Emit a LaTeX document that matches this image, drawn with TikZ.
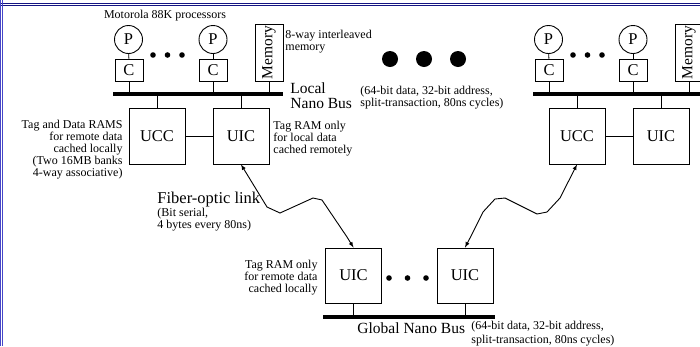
\documentclass[tikz,border=0pt]{standalone}
\usepackage{fontspec}
\setmainfont{Liberation Serif}
\definecolor{framenavy}{RGB}{20,20,130}
\definecolor{frameblue}{RGB}{70,70,200}
\newcommand{\smallfnt}{\fontsize{12}{12}\selectfont}
\newcommand{\loosefnt}{\fontsize{12}{14}\selectfont}
\newcommand{\bigfnt}{\fontsize{15.5}{15}\selectfont}
\newcommand{\boxfnt}{\fontsize{16.5}{16}\selectfont}
\begin{document}
\begin{tikzpicture}[x=1pt,y=-1pt,>=latex,line width=0.9pt,
  proc/.style={draw,circle,minimum size=28,inner sep=0,font=\boxfnt},
  cache/.style={draw,minimum width=28,minimum height=22,inner sep=0,font=\boxfnt},
  mem/.style={draw,rotate=90,minimum width=57,minimum height=28,inner sep=0,font=\bigfnt},
  ctrl/.style={draw,minimum width=56,minimum height=56,inner sep=0,font=\boxfnt},
  txt/.style={inner sep=0,font=\smallfnt},
  bigtxt/.style={inner sep=0,font=\bigfnt},
  boxtxt/.style={inner sep=0,font=\boxfnt},
  bus/.style={line width=4pt}]
\clip (0,0) rectangle (700,346);
% frame
\draw[framenavy,line width=1pt] (0,3.8)--(700,3.8) (0,5.8)--(700,5.8);
\draw[frameblue,line width=1pt] (0.5,0)--(0.5,346) (2.3,0)--(2.3,346);
% the two local clusters
\foreach \n/\s in {l/0,r/420}{
\begin{scope}[xshift=\s]
\node[proc] (\n p1) at (128.5,39.5) {P};
\node[proc] (\n p2) at (213,39.5) {P};
\node[cache] (\n c1) at (129,70) {C};
\node[cache] (\n c2) at (213,70) {C};
\node[mem] (\n mem) at (269,52.5) {Memory};
\coordinate (\n busl) at (113,94);
\coordinate (\n busr) at (283,94);
\draw[bus] (\n busl)--(\n busr);
\node[ctrl] (\n ucc) at (157,136) {UCC};
\node[ctrl] (\n uic) at (241,136) {UIC};
\draw (\n p1)--(\n c1);
\draw (\n p2)--(\n c2);
\draw (\n c1)--(\n c1 |- \n busl);
\draw (\n c2)--(\n c2 |- \n busl);
\draw (\n mem)--(\n mem |- \n busl);
\draw (\n ucc)--(\n ucc |- \n busl);
\draw (\n uic)--(\n uic |- \n busl);
\draw (\n ucc)--(\n uic);
\foreach \d in {153,167.5,182} \fill (\d,55) circle (2.8);
\end{scope}}
% labels
\node[txt] (proclabel) at (165,16) {Motorola 88K processors};
\node[txt,align=left,right] (memlabel) at (285,41.5) {8-way interleaved\\memory};
\node[bigtxt,align=left,right] (lbuslabel) at (290,95.5) {Local\\Nano Bus};
\node[txt,align=left,right] (lbusinfo) at (360,97.5) {(64-bit data, 32-bit address,\\split-transaction, 80ns cycles)};
\node[txt,align=right,left] (ucclabel) at (123,149.5) {Tag and Data RAMS\\for remote data\\cached locally\\(Two 16MB banks\\4-way associative)};
\node[txt,align=left,right] (uiclabel) at (273,138.5) {Tag RAM only\\for local data\\cached remotely};
\foreach \d in {390,424,458} \fill (\d,59) circle (8);
% global bus
\node[ctrl,minimum height=55] (guic1) at (353.5,275.5) {UIC};
\node[ctrl,minimum height=55] (guic2) at (465,275.5) {UIC};
\coordinate (gbusl) at (323,317);
\coordinate (gbusr) at (495,317);
\draw[bus] (gbusl)--(gbusr);
\draw (guic1)--(guic1 |- gbusl);
\draw (guic2)--(guic2 |- gbusl);
\foreach \d in {389,407.5,426} \fill (\d,278) circle (2.8);
\node[txt,align=right,left] (guiclabel) at (318,278) {Tag RAM only\\for remote data\\cached locally};
\node[bigtxt,right] (gbuslabel) at (357,328) {Global Nano Bus};
\node[txt,font=\loosefnt,align=left,right] (gbusinfo) at (471,334) {(64-bit data, 32-bit address,\\split-transaction, 80ns cycles)};
% fiber links
\draw[<->] (luic.south)--(267,207)--(280,213)--(313,198)--(322,200)--(347,237)--(guic1.north);
\draw[<->] (guic2.north)--(470,238)--(483,212)--(495,199)--(505,198)--(537,214)--(547,212)--(560,198)--(rucc.south);
\node[boxtxt,right] (fiberlabel) at (157,200) {Fiber-optic link};
\node[txt,align=left,right] (fiberinfo) at (157,219.5) {(Bit serial,\\4 bytes every 80ns)};
\end{tikzpicture}
\end{document}
